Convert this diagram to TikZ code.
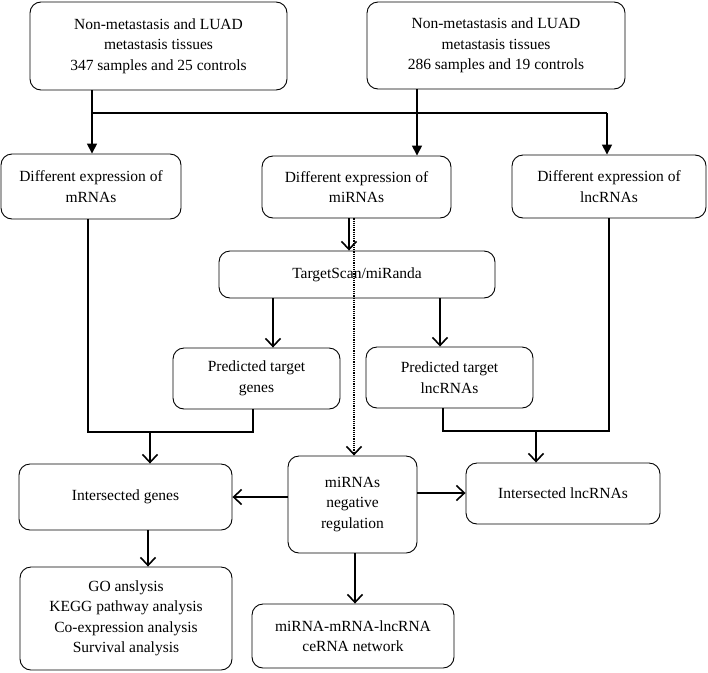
\documentclass[tikz,border=0pt]{standalone}
\usepackage{fontspec}
\setmainfont{Liberation Serif}
\usetikzlibrary{arrows.meta}
\begin{document}
\begin{tikzpicture}[x=1pt,y=-1pt,
  box/.style={draw, line width=0.9pt, rounded corners=11pt, align=center, inner sep=0pt,
    font=\fontsize{15.5}{20.5}\selectfont},
  conn/.style={line width=1.6pt},
  filled/.style={conn, -{Triangle[length=10pt,width=10pt]}},
  open/.style={conn, -{Straight Barb[length=8pt,width=15pt,line width=1.6pt]}},
  dots/.style={line width=1.2pt, dash pattern=on 1.2pt off 1pt, -{Straight Barb[length=8pt,width=15pt,line width=1.6pt]}}
]
\useasboundingbox (0,0) rectangle (708,672);

\node[box, minimum width=257pt, minimum height=88pt] (top1) at (158.5,46)
  {Non-metastasis and LUAD\\metastasis tissues\\347 samples and 25 controls};
\node[box, minimum width=258pt, minimum height=87pt] (top2) at (496,45.5)
  {Non-metastasis and LUAD\\metastasis tissues\\286 samples and 19 controls};
\node[box, minimum width=180pt, minimum height=65pt] (mrna) at (91,186.5)
  {Different expression of\\mRNAs};
\node[box, minimum width=189pt, minimum height=62pt] (mirna) at (356.5,187)
  {Different expression of\\miRNAs};
\node[box, minimum width=194pt, minimum height=63pt] (lnc) at (609,186.5)
  {Different expression of\\lncRNAs};
\node[box, minimum width=276pt, minimum height=47pt] (ts) at (357,274.5)
  {TargetScan/miRanda};
\node[box, minimum width=167pt, minimum height=61pt] (ptg) at (256.5,378.5)
  {Predicted target\\genes};
\node[box, minimum width=167pt, minimum height=61pt] (ptl) at (449.5,377.5)
  {Predicted target\\lncRNAs};
\node[box, minimum width=213pt, minimum height=66pt] (ig) at (125.5,497)
  {Intersected genes};
\node[box, minimum width=129pt, minimum height=97pt] (neg) at (352.5,504.5)
  {miRNAs\\negative\\regulation};
\node[box, minimum width=194pt, minimum height=61pt] (il) at (563,493.5)
  {Intersected lncRNAs};
\node[box, minimum width=212pt, minimum height=103pt] (go) at (126,618.5)
  {GO anslysis\\KEGG pathway analysis\\Co-expression analysis\\Survival analysis};
\node[box, minimum width=202pt, minimum height=64pt] (net) at (353,636)
  {miRNA-mRNA-lncRNA\\ceRNA network};

% top distribution
\coordinate (jl) at (92,113);
\coordinate (jr) at (607,113);
\draw[filled] (top1.south -| jl) -- (mrna.north -| jl);
\draw[conn] (jl) -- (jr);
\draw[filled] (jr) -- (lnc.north -| jr);
\coordinate (jm) at (417,113);
\draw[filled] (top2.south -| jm) -- (mirna.north -| jm);

% miRNA to TargetScan and dotted
\coordinate (xa) at (349,0);
\coordinate (xd) at (354,0);
\draw[open] (mirna.south -| xa) -- (ts.north -| xa);
\draw[dots] (mirna.south -| xd) -- (neg.north -| xd);

% TargetScan to predicted
\coordinate (xg) at (273,0);
\coordinate (xl) at (440,0);
\draw[open] (ts.south -| xg) -- (ptg.north -| xg);
\draw[open] (ts.south -| xl) -- (ptl.north -| xl);

% merge to intersected genes
\coordinate (m1) at (88,432);
\coordinate (m2) at (253,432);
\coordinate (m3) at (150,432);
\draw[conn] (mrna.south -| m1) -- (m1) -- (m2) -- (ptg.south -| m2);
\draw[open] (m3) -- (ig.north -| m3);

% merge to intersected lncRNAs
\coordinate (n1) at (443,431);
\coordinate (n2) at (609,431);
\coordinate (n3) at (536,431);
\draw[conn] (ptl.south -| n1) -- (n1) -- (n2) -- (lnc.south -| n2);
\draw[open] (n3) -- (il.north -| n3);

% negative regulation
\coordinate (yl) at (0,497);
\coordinate (yr) at (0,493);
\draw[open] (neg.west |- yl) -- (ig.east |- yl);
\draw[open] (neg.east |- yr) -- (il.west |- yr);
\coordinate (xn) at (355,0);
\draw[open] (neg.south -| xn) -- (net.north -| xn);

% intersected genes to GO
\coordinate (xo) at (148,0);
\draw[open] (ig.south -| xo) -- (go.north -| xo);
\end{tikzpicture}
\end{document}
